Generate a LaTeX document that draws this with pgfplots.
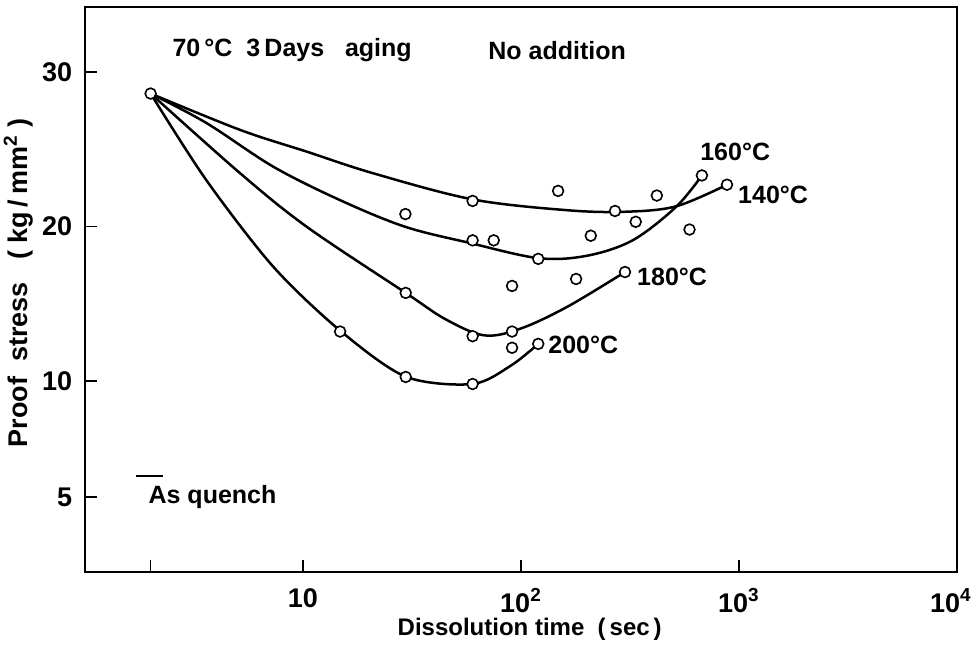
\documentclass[border=0pt]{standalone}
\usepackage{pgfplots}
\pgfplotsset{compat=1.18}
\usepackage{fontspec}
\setmainfont{Liberation Sans}
\begin{document}
\fontsize{12.5}{14}\selectfont\bfseries
\begin{tikzpicture}
\useasboundingbox (-42.5pt,-38pt) rectangle (445pt,286pt);
\begin{axis}[
  at={(0,0)}, anchor=south west,
  scale only axis, width=436pt, height=282.5pt,
  xmode=log, xmin=1, xmax=10000,
  y coord trafo/.code={\pgfmathparse{#1>=10 ? #1 : 10-(10-#1)*1.5}},
  y coord inv trafo/.code={\pgfmathparse{#1>=10 ? #1 : 10-(10-#1)/1.5}},
  ymin=1.76, ymax=34.2,
  xtick={2,10,100,1000,10000},
  xticklabels={,10,10\textsuperscript{2},10\textsuperscript{3},\hspace*{-6pt}10\textsuperscript{4}},
  ytick={5,10,20,30}, yticklabels={5,10,20,30},
  xminorticks=false, yminorticks=false,
  tick align=inside, xtick pos=left, ytick pos=left,
  major tick length=6pt,
  axis line style={line width=0.9pt},
  every tick/.style={line width=0.7pt, black},
  /pgf/number format/assume math mode=true,
  tick label style={font=\fontsize{13.5}{15}\selectfont\bfseries},
  xticklabel style={yshift=-4pt},
  yticklabel style={xshift=-2pt},
  xlabel={Dissolution\ time\ \ (\,sec\,)},
  xlabel style={at={(axis description cs:0.51,-0.102)}, anchor=center, font=\fontsize{12}{14}\selectfont\bfseries},
  ylabel={Proof\ \ stress\ \ \ (\ kg\,/\,mm\textsuperscript{2}\ )},
  ylabel style={at={(axis description cs:-0.0765,0.5115)}, anchor=center, font=\fontsize{13.5}{15}\selectfont\bfseries},
  clip=false,
]
% fitted curves
\addplot[smooth, tension=0.55, line width=1.25pt] coordinates {
 (2,28.6) (5.14,26.25) (10.4,24.84) (21,23.44) (60,21.75)
 (163,21.05) (300,20.95) (514,21.3) (881,22.7)};
\addplot[smooth, tension=0.55, line width=1.25pt] coordinates {
 (2,28.6) (3.6,26.7) (7.3,23.87) (14.8,21.7) (29.4,19.98) (58.3,18.93)
 (120,17.95) (200,18.1) (325,19.1) (514,21.26) (676,23.3)};
\addplot[smooth, tension=0.55, line width=1.25pt] coordinates {
 (2,28.6) (5.14,23.45) (10.4,19.98) (29.6,15.7) (45,14.0) (68,12.95)
 (100,13.4) (163,14.8) (300,17.05)};
\addplot[smooth, tension=0.5, line width=1.25pt] coordinates {
 (2,28.6) (3.6,23.0) (7.3,17.4) (14.8,13.26) (29.6,10.28) (60,9.87)
 (90,11.0) (120,12.4)};
% as quench
\addplot[line width=1pt] coordinates {(1.71,5.9) (2.28,5.9)};
% measured points
\addplot[only marks, mark=*, mark size=2.7pt, mark options={fill=white, draw=black, line width=0.8pt}] coordinates {
 (2,28.6) (60,21.65) (148,22.3) (270,21.0) (420,22.0) (881,22.7)};
\addplot[only marks, mark=*, mark size=2.7pt, mark options={fill=white, draw=black, line width=0.8pt}] coordinates {
 (29.5,20.8) (60,19.1) (75,19.1) (120,17.9) (209,19.4) (336,20.3) (593,19.8) (676,23.3)};
\addplot[only marks, mark=*, mark size=2.7pt, mark options={fill=white, draw=black, line width=0.8pt}] coordinates {
 (29.6,15.7) (60,12.9) (91,13.2) (91,16.15) (179,16.6) (300,17.05)};
\addplot[only marks, mark=*, mark size=2.7pt, mark options={fill=white, draw=black, line width=0.8pt}] coordinates {
 (14.8,13.2) (29.6,10.26) (60,9.87) (91,12.15) (120,12.4)};
% annotations
\node[anchor=west, inner sep=0pt] at (axis cs:2.51,31.4) {70\,°C\ \ 3\,Days\ \ \ aging};
\node[anchor=west, inner sep=0pt] at (axis cs:70.6,31.4) {No\ addition};
\node[anchor=west, inner sep=0pt] at (axis cs:662,24.8) {160°C};
\node[anchor=west, inner sep=0pt] at (axis cs:988,22.04) {140°C};
\node[anchor=west, inner sep=0pt] at (axis cs:340,16.73) {180°C};
\node[anchor=west, inner sep=0pt] at (axis cs:133,12.33) {200°C};
\node[anchor=west, inner sep=0pt] at (axis cs:1.95,5.0) {As\ quench};
\end{axis}
\end{tikzpicture}
\end{document}
